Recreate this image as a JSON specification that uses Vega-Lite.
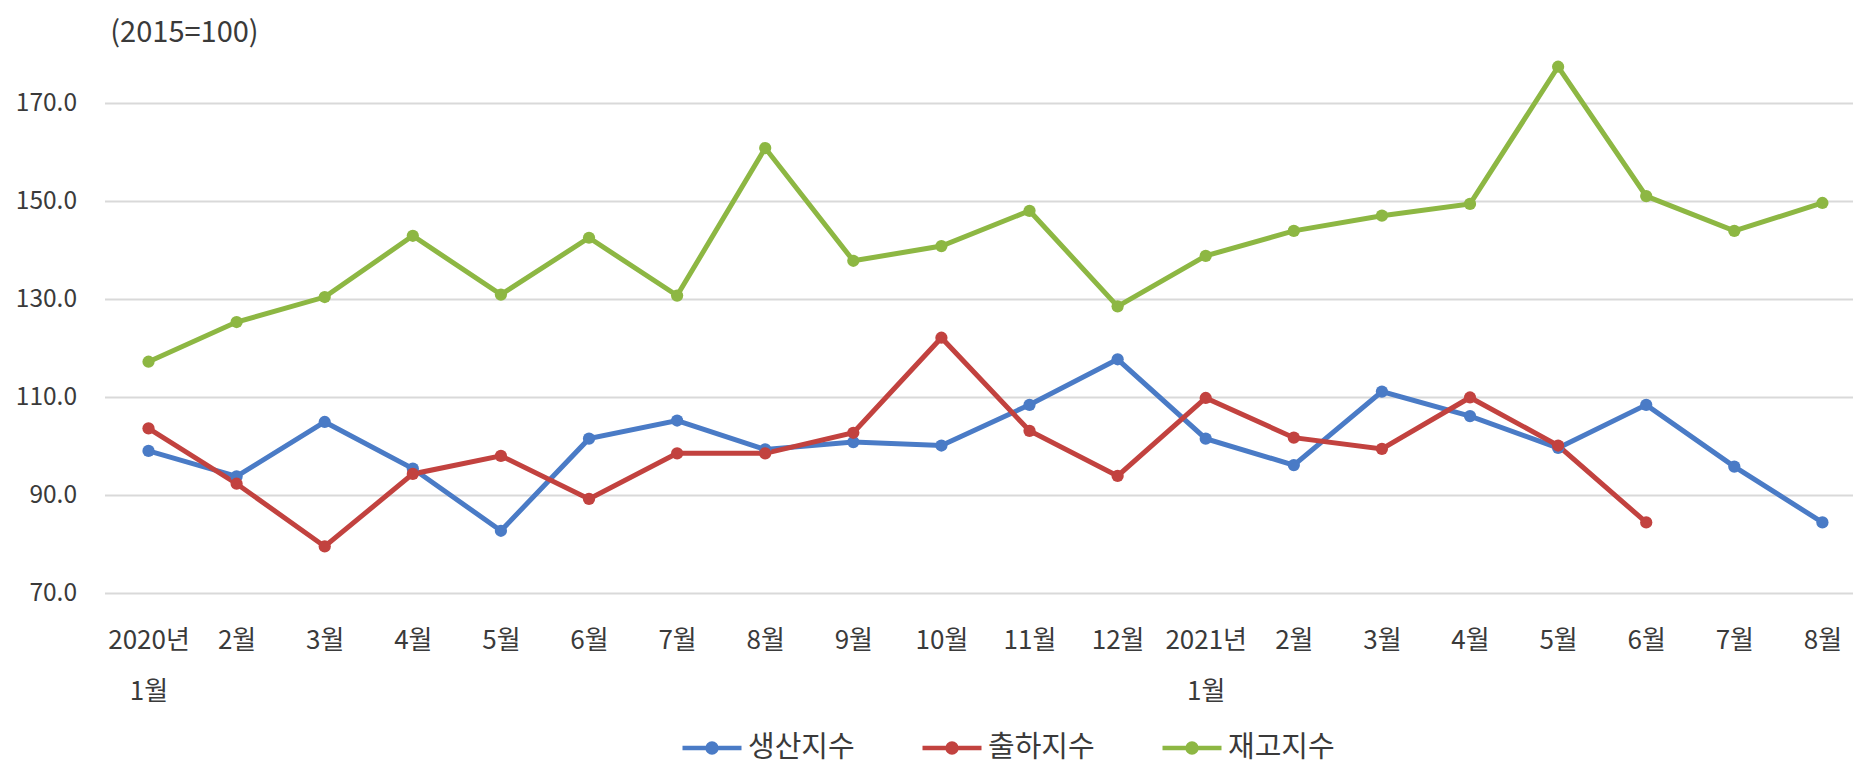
{
  "$schema": "https://vega.github.io/schema/vega-lite/v6.json",
  "width": 1748.5,
  "height": 539,
  "autosize": {"type": "none"},
  "padding": {"left": 104.5, "top": 54, "right": 0, "bottom": 178},
  "background": "white",
  "config": {
    "view": {"stroke": null},
    "font": "Noto Sans CJK KR",
    "text": {"font": "Noto Sans CJK KR"}
  },
  "datasets": {
    "rows": [
      {"m": "2020-01", "s": "생산지수", "v": 99.0},
      {"m": "2020-02", "s": "생산지수", "v": 93.8},
      {"m": "2020-03", "s": "생산지수", "v": 104.9},
      {"m": "2020-04", "s": "생산지수", "v": 95.4},
      {"m": "2020-05", "s": "생산지수", "v": 82.7},
      {"m": "2020-06", "s": "생산지수", "v": 101.5},
      {"m": "2020-07", "s": "생산지수", "v": 105.2},
      {"m": "2020-08", "s": "생산지수", "v": 99.3},
      {"m": "2020-09", "s": "생산지수", "v": 100.8},
      {"m": "2020-10", "s": "생산지수", "v": 100.1},
      {"m": "2020-11", "s": "생산지수", "v": 108.4},
      {"m": "2020-12", "s": "생산지수", "v": 117.7},
      {"m": "2021-01", "s": "생산지수", "v": 101.5},
      {"m": "2021-02", "s": "생산지수", "v": 96.1},
      {"m": "2021-03", "s": "생산지수", "v": 111.1},
      {"m": "2021-04", "s": "생산지수", "v": 106.1},
      {"m": "2021-05", "s": "생산지수", "v": 99.6},
      {"m": "2021-06", "s": "생산지수", "v": 108.4},
      {"m": "2021-07", "s": "생산지수", "v": 95.8},
      {"m": "2021-08", "s": "생산지수", "v": 84.4},
      {"m": "2020-01", "s": "출하지수", "v": 103.6},
      {"m": "2020-02", "s": "출하지수", "v": 92.3},
      {"m": "2020-03", "s": "출하지수", "v": 79.5},
      {"m": "2020-04", "s": "출하지수", "v": 94.3},
      {"m": "2020-05", "s": "출하지수", "v": 98.0},
      {"m": "2020-06", "s": "출하지수", "v": 89.2},
      {"m": "2020-07", "s": "출하지수", "v": 98.5},
      {"m": "2020-08", "s": "출하지수", "v": 98.5},
      {"m": "2020-09", "s": "출하지수", "v": 102.7},
      {"m": "2020-10", "s": "출하지수", "v": 122.1},
      {"m": "2020-11", "s": "출하지수", "v": 103.1},
      {"m": "2020-12", "s": "출하지수", "v": 93.9},
      {"m": "2021-01", "s": "출하지수", "v": 109.8},
      {"m": "2021-02", "s": "출하지수", "v": 101.7},
      {"m": "2021-03", "s": "출하지수", "v": 99.4},
      {"m": "2021-04", "s": "출하지수", "v": 109.9},
      {"m": "2021-05", "s": "출하지수", "v": 100.1},
      {"m": "2021-06", "s": "출하지수", "v": 84.4},
      {"m": "2020-01", "s": "재고지수", "v": 117.2},
      {"m": "2020-02", "s": "재고지수", "v": 125.3},
      {"m": "2020-03", "s": "재고지수", "v": 130.4},
      {"m": "2020-04", "s": "재고지수", "v": 142.9},
      {"m": "2020-05", "s": "재고지수", "v": 130.9},
      {"m": "2020-06", "s": "재고지수", "v": 142.5},
      {"m": "2020-07", "s": "재고지수", "v": 130.7},
      {"m": "2020-08", "s": "재고지수", "v": 160.8},
      {"m": "2020-09", "s": "재고지수", "v": 137.8},
      {"m": "2020-10", "s": "재고지수", "v": 140.8},
      {"m": "2020-11", "s": "재고지수", "v": 148.0},
      {"m": "2020-12", "s": "재고지수", "v": 128.5},
      {"m": "2021-01", "s": "재고지수", "v": 138.8},
      {"m": "2021-02", "s": "재고지수", "v": 143.9},
      {"m": "2021-03", "s": "재고지수", "v": 147.0},
      {"m": "2021-04", "s": "재고지수", "v": 149.4},
      {"m": "2021-05", "s": "재고지수", "v": 177.4},
      {"m": "2021-06", "s": "재고지수", "v": 151.0},
      {"m": "2021-07", "s": "재고지수", "v": 143.9},
      {"m": "2021-08", "s": "재고지수", "v": 149.6}
    ]
  },
  "data": {"name": "rows"},
  "encoding": {
    "x": {
      "field": "m",
      "type": "ordinal",
      "scale": {"type": "point", "padding": 0.4234, "align": 0.59},
      "axis": {
        "title": null,
        "domain": false,
        "ticks": false,
        "grid": false,
        "labelAngle": 0,
        "labelFontSize": 26,
        "labelColor": "#3A3A3A",
        "labelFont": "Noto Sans CJK KR",
        "labelBaseline": "top",
        "labelPadding": 34,
        "labelLineHeight": 51,
        "labelExpr": "slice(datum.value,5,7)=='01' ? [slice(datum.value,0,4)+'년','1월'] : toNumber(slice(datum.value,5,7))+'월'"
      }
    },
    "y": {
      "field": "v",
      "type": "quantitative",
      "scale": {"domain": [70, 180], "nice": false, "zero": false},
      "axis": {
        "values": [70, 90, 110, 130, 150, 170],
        "format": ".1f",
        "domain": false,
        "ticks": false,
        "grid": true,
        "gridColor": "#D9D9D9",
        "gridWidth": 2,
        "labelFontSize": 24.5,
        "labelColor": "#3A3A3A",
        "labelFont": "Noto Sans CJK KR",
        "labelPadding": 28,
        "title": "(2015=100)",
        "titleAngle": 0,
        "titleAlign": "center",
        "titleBaseline": "middle",
        "titleX": 79.5,
        "titleY": -22,
        "titleFontSize": 29,
        "titleFontWeight": "normal",
        "titleColor": "#3A3A3A",
        "titleFont": "Noto Sans CJK KR"
      }
    },
    "color": {
      "field": "s",
      "type": "nominal",
      "sort": ["생산지수", "출하지수", "재고지수"],
      "scale": {
        "domain": ["생산지수", "출하지수", "재고지수"],
        "range": ["#4A7BC6", "#C2423F", "#8DB743"]
      },
      "legend": {
        "title": null,
        "orient": "none",
        "legendX": 575.5,
        "legendY": 662,
        "direction": "horizontal",
        "padding": 0,
        "symbolType": "M-1,0H1M-0.15,0A0.15,0.15 0 1,1 0.15,0A0.15,0.15 0 1,1 -0.15,0Z",
        "symbolSize": 3481,
        "symbolStrokeWidth": 4.5,
        "labelFontSize": 29,
        "labelColor": "#3A3A3A",
        "labelFont": "Noto Sans CJK KR",
        "labelOffset": 4,
        "columnPadding": 58,
        "encode": {
          "symbols": {
            "update": {
              "fill": {"scale": "color", "field": "value"},
              "stroke": {"scale": "color", "field": "value"},
              "opacity": {"value": 1}
            }
          }
        }
      }
    }
  },
  "layer": [
    {"mark": {"type": "line", "strokeWidth": 5}},
    {"mark": {"type": "point", "filled": true, "size": 150, "opacity": 1, "shape": "circle"}}
  ]
}
